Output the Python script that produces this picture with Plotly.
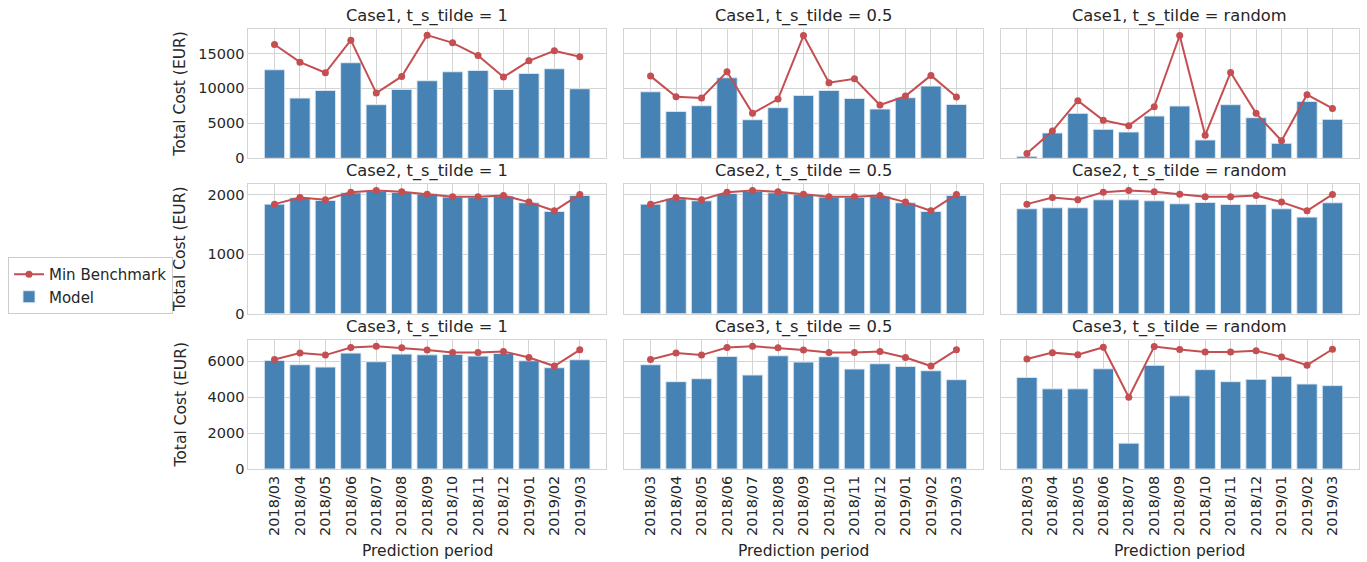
import plotly.graph_objects as go

periods = ["2018/03", "2018/04", "2018/05", "2018/06", "2018/07", "2018/08", "2018/09",
           "2018/10", "2018/11", "2018/12", "2019/01", "2019/02", "2019/03"]

cases = ["Case1", "Case2", "Case3"]
tildes = ["1", "0.5", "random"]

# Case1
model_c1_t1 = [12670, 8620, 9710, 13670, 7670, 9860, 11100, 12380, 12570, 9860, 12140, 12810, 9950]
bench_c1_t1 = [16290, 13760, 12240, 16900, 9330, 11710, 17620, 16520, 14710, 11620, 13950, 15380, 14520]
model_c1_t05 = [9520, 6710, 7520, 11520, 5520, 7240, 9000, 9710, 8570, 7050, 8670, 10330, 7710]
bench_c1_t05 = [11760, 8810, 8620, 12380, 6430, 8480, 17570, 10810, 11380, 7620, 8900, 11860, 8760]
model_c1_tr = [290, 3620, 6430, 4140, 3760, 6050, 7480, 2620, 7670, 5810, 2140, 8140, 5570]
bench_c1_tr = [670, 3900, 8240, 5430, 4670, 7380, 17570, 3290, 12290, 6430, 2520, 9100, 7140]

# Case2
model_c2_t1 = [1842, 1949, 1904, 2033, 2061, 2038, 2016, 1960, 1954, 1977, 1865, 1719, 1988]
bench_c2_t1 = [1842, 1954, 1915, 2044, 2072, 2050, 2010, 1966, 1966, 1988, 1876, 1730, 2005]
model_c2_t05 = [1842, 1932, 1898, 2022, 2055, 2033, 2010, 1960, 1954, 1977, 1865, 1719, 1988]
bench_c2_t05 = [1842, 1954, 1915, 2044, 2072, 2050, 2010, 1966, 1966, 1988, 1876, 1730, 2005]
model_c2_tr = [1764, 1781, 1781, 1915, 1915, 1898, 1848, 1870, 1837, 1837, 1764, 1624, 1865]
bench_c2_tr = [1842, 1954, 1915, 2044, 2072, 2050, 2010, 1966, 1966, 1988, 1876, 1730, 2005]

# Case3
model_c3_t1 = [6056, 5815, 5685, 6463, 5982, 6407, 6370, 6389, 6296, 6444, 6037, 5648, 6093]
bench_c3_t1 = [6111, 6463, 6352, 6778, 6852, 6759, 6630, 6500, 6500, 6556, 6222, 5741, 6648]
model_c3_t05 = [5815, 4870, 5037, 6278, 5241, 6315, 5963, 6259, 5574, 5870, 5722, 5481, 4981]
bench_c3_t05 = [6111, 6463, 6352, 6778, 6852, 6759, 6630, 6500, 6500, 6556, 6222, 5741, 6648]
model_c3_tr = [5110, 4470, 4470, 5590, 1440, 5780, 4080, 5540, 4870, 5000, 5170, 4740, 4650]
bench_c3_tr = [6130, 6490, 6370, 6790, 4000, 6830, 6660, 6530, 6530, 6600, 6250, 5790, 6680]

models = [[model_c1_t1, model_c1_t05, model_c1_tr],
          [model_c2_t1, model_c2_t05, model_c2_tr],
          [model_c3_t1, model_c3_t05, model_c3_tr]]
benches = [[bench_c1_t1, bench_c1_t05, bench_c1_tr],
           [bench_c2_t1, bench_c2_t05, bench_c2_tr],
           [bench_c3_t1, bench_c3_t05, bench_c3_tr]]

row_ticks = [[0, 5000, 10000, 15000], [0, 1000, 2000], [0, 2000, 4000, 6000]]

W, H = 1367, 562
col_px = [(248.3, 606.0), (624.3, 982.7), (1000.7, 1358.7)]
row_px = [(29.0, 158.3), (184.3, 313.7), (340.0, 469.0)]

BAR = "#4682B4"
RED = "#C44E52"
GRID = "#d4d4d4"
TXT = "#262626"
FONT = "DejaVu Sans"

fig = go.Figure()
layout = dict(
    width=W, height=H,
    margin=dict(l=0, r=0, t=0, b=0, autoexpand=False),
    paper_bgcolor="white", plot_bgcolor="white",
    font=dict(family=FONT, size=14.5, color=TXT),
    bargap=0.2,
    showlegend=True,
    legend=dict(x=8 / W, y=1 - 257 / H, xanchor="left", yanchor="top",
                bordercolor="#cccccc", borderwidth=1, bgcolor="white",
                font=dict(size=15, color=TXT), tracegroupgap=0),
)
annotations = []

for r in range(3):
    row_max = max(max(max(models[r][c]), max(benches[r][c])) for c in range(3))
    y_top = row_max * 1.05
    for c in range(3):
        k = r * 3 + c + 1
        xa = "x" if k == 1 else f"x{k}"
        ya = "y" if k == 1 else f"y{k}"
        first = (k == 1)
        fig.add_trace(go.Bar(
            x=periods, y=models[r][c], name="Model", xaxis=xa, yaxis=ya,
            width=0.8, marker=dict(color=BAR, line=dict(color="rgba(225,235,245,0.9)", width=1)),
            showlegend=first, legendrank=2,
        ))
        fig.add_trace(go.Scatter(
            x=periods, y=benches[r][c], name="Min Benchmark", xaxis=xa, yaxis=ya,
            mode="lines+markers", line=dict(color=RED, width=2),
            marker=dict(color=RED, size=7),
            showlegend=first, legendrank=1,
        ))
        x0, x1 = col_px[c]
        t0, t1 = row_px[r]
        xkey = "xaxis" if k == 1 else f"xaxis{k}"
        ykey = "yaxis" if k == 1 else f"yaxis{k}"
        layout[xkey] = dict(
            domain=[x0 / W, x1 / W], anchor=ya, type="category",
            categoryorder="array", categoryarray=periods, automargin=False,
            range=[-1.03, 13.03], showgrid=True, gridcolor=GRID, gridwidth=1,
            showline=True, linecolor=GRID, linewidth=1, mirror=True,
            zeroline=False, ticks="", showticklabels=(r == 2),
            tickangle=-90, tickfont=dict(size=14.5, color=TXT),
        )
        layout[ykey] = dict(
            domain=[1 - t1 / H, 1 - t0 / H], anchor=xa, automargin=False,
            range=[0, y_top], tickvals=row_ticks[r],
            ticktext=[str(v) for v in row_ticks[r]],
            showgrid=True, gridcolor=GRID, gridwidth=1,
            showline=True, linecolor=GRID, linewidth=1, mirror=True,
            zeroline=False, ticks="", showticklabels=(c == 0),
            tickfont=dict(size=14.5, color=TXT),
        )
        annotations.append(dict(
            text=f"{cases[r]}, t_s_tilde = {tildes[c]}",
            x=(x0 + x1) / 2 / W, y=1 - t0 / H, xref="paper", yref="paper",
            xanchor="center", yanchor="bottom", yshift=1, showarrow=False,
            font=dict(size=16.3, color=TXT, family=FONT),
        ))
        if r == 2:
            annotations.append(dict(
                text="Prediction period", x=(x0 + x1) / 2 / W, y=1 - 551 / H,
                xref="paper", yref="paper", xanchor="center", yanchor="middle",
                showarrow=False, font=dict(size=15.5, color=TXT, family=FONT),
            ))
    annotations.append(dict(
        text="Total Cost (EUR)", x=180 / W, y=1 - (row_px[r][0] + row_px[r][1]) / 2 / H,
        xref="paper", yref="paper", xanchor="center", yanchor="middle",
        textangle=-90, showarrow=False, font=dict(size=15.5, color=TXT, family=FONT),
    ))

layout["annotations"] = annotations
fig.update_layout(**layout)
fig.write_html("out.html")
